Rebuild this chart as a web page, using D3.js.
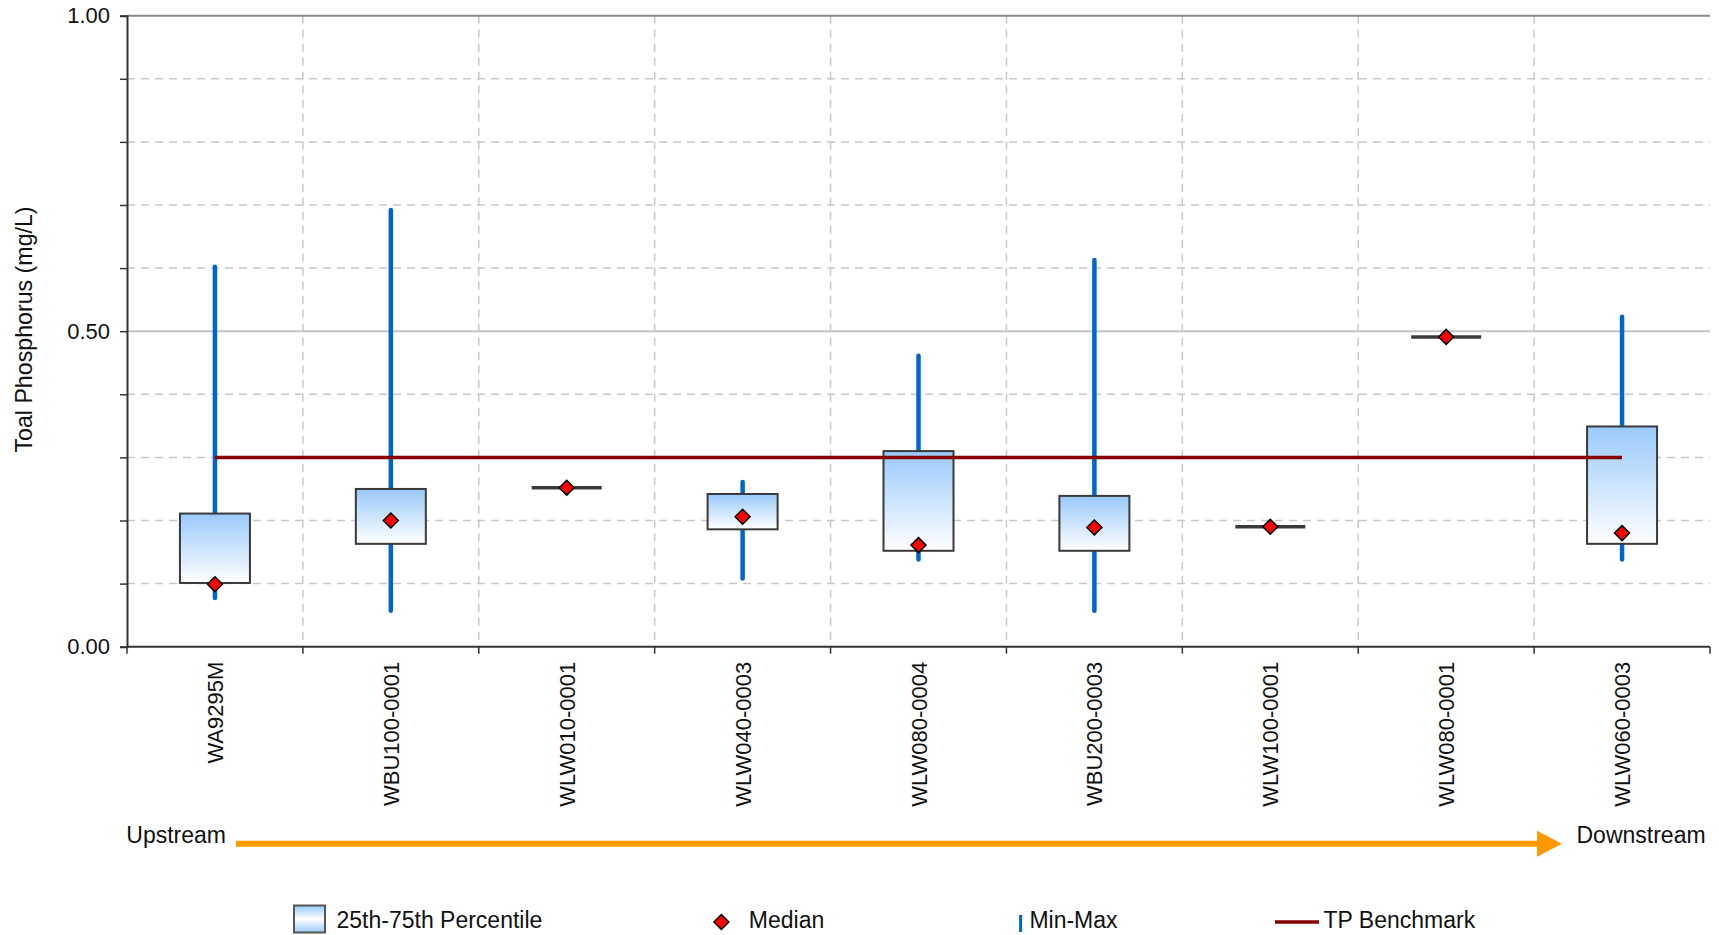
<!DOCTYPE html>
<html>
<head>
<meta charset="utf-8">
<script src="https://cdn.jsdelivr.net/npm/d3@7"></script>
<style>
  html, body { margin: 0; padding: 0; background: #fff; }
  svg { display: block; font-family: "Liberation Sans", Arial, sans-serif; }
</style>
</head>
<body>
<svg id="chart" width="1719" height="935"></svg>
<script>
// ---------------- data ----------------
const sites = ["WA9295M", "WBU100-0001", "WLW010-0001", "WLW040-0003", "WLW080-0004",
               "WBU200-0003", "WLW100-0001", "WLW080-0001", "WLW060-0003"];
const minVals    = [0.077, 0.057, 0.252, 0.108, 0.138, 0.057, 0.190, 0.491, 0.138];
const q1Vals     = [0.101, 0.163, 0.252, 0.186, 0.152, 0.152, 0.190, 0.491, 0.163];
const medianVals = [0.099, 0.200, 0.252, 0.206, 0.161, 0.189, 0.190, 0.491, 0.180];
const q3Vals     = [0.211, 0.250, 0.252, 0.242, 0.310, 0.239, 0.190, 0.491, 0.349];
const maxVals    = [0.602, 0.692, 0.252, 0.261, 0.461, 0.613, 0.190, 0.491, 0.523];
const benchmark = 0.3;
const yMajorTicks = [0, 0.5, 1.0];
const yMinorTicks = [0.1, 0.2, 0.3, 0.4, 0.6, 0.7, 0.8, 0.9];
const yTickLabels = ["0.00", "0.50", "1.00"];
const yAxisTitle = "Toal Phosphorus (mg/L)";
const legendLabels = ["25th-75th Percentile", "Median", "Min-Max", "TP Benchmark"];
const flowLabels = ["Upstream", "Downstream"];

const rows = sites.map((s, i) => ({
  site: s, min: minVals[i], q1: q1Vals[i], med: medianVals[i], q3: q3Vals[i], max: maxVals[i]
}));

// ---------------- layout ----------------
const svg = d3.select("#chart");
const L = 127, R = 1710, T = 15.7, B = 646.7;
const x = d3.scaleBand().domain(sites).range([L, R]).paddingInner(0).paddingOuter(0);
const y = d3.scaleLinear().domain([0, 1]).range([B, T]);
const step = x.step();
const boxW = step * 0.398;
const cx = s => x(s) + x.bandwidth() / 2;

const defs = svg.append("defs");
const g1 = defs.append("linearGradient").attr("id", "boxGrad")
  .attr("x1", 0).attr("y1", 0).attr("x2", 0).attr("y2", 1);
g1.append("stop").attr("offset", "0%").attr("stop-color", "#99c9fb");
g1.append("stop").attr("offset", "100%").attr("stop-color", "#ffffff");
const g2 = defs.append("linearGradient").attr("id", "legGrad")
  .attr("x1", 0).attr("y1", 0).attr("x2", 0).attr("y2", 1);
g2.append("stop").attr("offset", "0%").attr("stop-color", "#99c9fb");
g2.append("stop").attr("offset", "50%").attr("stop-color", "#ffffff");
g2.append("stop").attr("offset", "100%").attr("stop-color", "#99c9fb");

// ---------------- grid ----------------
const grid = svg.append("g");
grid.selectAll("line.hminor").data(yMinorTicks).join("line")
  .attr("x1", L).attr("x2", R).attr("y1", d => y(d)).attr("y2", d => y(d))
  .attr("stroke", "#c8c8c8").attr("stroke-width", 1.5).attr("stroke-dasharray", "8,6");
grid.append("line").attr("x1", L).attr("x2", R).attr("y1", y(0.5)).attr("y2", y(0.5))
  .attr("stroke", "#c4c4c4").attr("stroke-width", 2);
const bounds = d3.range(1, sites.length).map(i => L + i * step);
grid.selectAll("line.v").data(bounds).join("line")
  .attr("x1", d => d).attr("x2", d => d).attr("y1", T).attr("y2", B)
  .attr("stroke", "#c8c8c8").attr("stroke-width", 1.5).attr("stroke-dasharray", "8,6");
grid.append("line").attr("x1", L).attr("x2", R).attr("y1", y(1)).attr("y2", y(1))
  .attr("stroke", "#8a8a8a").attr("stroke-width", 2);

// ---------------- axes ----------------
const yAxis = d3.axisLeft(y).tickValues(yMajorTicks.concat(yMinorTicks))
  .tickSize(7).tickPadding(10)
  .tickFormat(d => { const k = yMajorTicks.indexOf(d); return k >= 0 ? yTickLabels[k] : ""; });
const ya = svg.append("g").attr("transform", `translate(${L},0)`).call(yAxis);
ya.select(".domain").attr("stroke", "#333").attr("stroke-width", 2);
ya.selectAll(".tick line").attr("stroke", "#333").attr("stroke-width", 1.5);
ya.selectAll(".tick text").attr("font-size", 22).attr("fill", "#111")
  .attr("font-family", "Liberation Sans, Arial, sans-serif");

// x axis line + boundary ticks
svg.append("line").attr("x1", L).attr("x2", R).attr("y1", B).attr("y2", B)
  .attr("stroke", "#333").attr("stroke-width", 2);
svg.selectAll("line.xt").data(d3.range(0, sites.length + 1).map(i => L + i * step)).join("line")
  .attr("x1", d => d).attr("x2", d => d).attr("y1", B).attr("y2", B + 7)
  .attr("stroke", "#333").attr("stroke-width", 1.5);
svg.selectAll("text.xl").data(sites).join("text")
  .attr("transform", d => `translate(${cx(d) + 8},${B + 15}) rotate(-90)`)
  .attr("text-anchor", "end").attr("font-size", 22).attr("fill", "#111").text(d => d);

svg.append("text")
  .attr("transform", `translate(31.5,${(206 + 453) / 2}) rotate(-90)`)
  .attr("text-anchor", "middle").attr("font-size", 23.2).attr("fill", "#111").text(yAxisTitle);

// ---------------- marks ----------------
const marks = svg.append("g");
// whiskers
marks.selectAll("line.wh").data(rows.filter(d => d.max > d.min)).join("line")
  .attr("x1", d => cx(d.site)).attr("x2", d => cx(d.site))
  .attr("y1", d => y(d.min)).attr("y2", d => y(d.max))
  .attr("stroke", "#0066cc").attr("stroke-width", 4.5).attr("stroke-linecap", "round");
// boxes
marks.selectAll("rect.bx").data(rows.filter(d => d.q3 > d.q1)).join("rect")
  .attr("x", d => cx(d.site) - boxW / 2).attr("width", boxW)
  .attr("y", d => y(d.q3)).attr("height", d => y(d.q1) - y(d.q3))
  .attr("fill", "url(#boxGrad)").attr("stroke", "#3a3a3a").attr("stroke-width", 2);
// zero-height boxes
marks.selectAll("line.zb").data(rows.filter(d => d.q3 <= d.q1)).join("line")
  .attr("x1", d => cx(d.site) - boxW / 2).attr("x2", d => cx(d.site) + boxW / 2)
  .attr("y1", d => y(d.q1)).attr("y2", d => y(d.q1))
  .attr("stroke", "#3a3a3a").attr("stroke-width", 3.5);
// benchmark
marks.append("line")
  .attr("x1", cx(sites[0])).attr("x2", cx(sites[sites.length - 1]))
  .attr("y1", y(benchmark)).attr("y2", y(benchmark))
  .attr("stroke", "#850000").attr("stroke-width", 3.5);
// medians
const diamond = d3.symbol(d3.symbolSquare, 112)();
marks.selectAll("path.md").data(rows).join("path")
  .attr("d", diamond)
  .attr("transform", d => `translate(${cx(d.site)},${y(d.med)}) rotate(45)`)
  .attr("fill", "#ff0000").attr("stroke", "#000").attr("stroke-width", 1.5);

// ---------------- flow arrow ----------------
const ay = 843.7;
svg.append("text").attr("x", 226).attr("y", 843).attr("text-anchor", "end")
  .attr("font-size", 23).attr("fill", "#111").text(flowLabels[0]);
svg.append("text").attr("x", 1576.5).attr("y", 843).attr("text-anchor", "start")
  .attr("font-size", 23).attr("fill", "#111").text(flowLabels[1]);
svg.append("line").attr("x1", 236).attr("x2", 1540).attr("y1", ay).attr("y2", ay)
  .attr("stroke", "#ff9900").attr("stroke-width", 6);
svg.append("path")
  .attr("d", `M1537,${ay - 13} L1562,${ay} L1537,${ay + 13} Z`)
  .attr("fill", "#ff9900");

// ---------------- legend ----------------
const ly = 919;
const leg = svg.append("g").attr("font-size", 23).attr("fill", "#111");
leg.append("rect").attr("x", 294).attr("y", 905.5).attr("width", 31).attr("height", 27)
  .attr("fill", "url(#legGrad)").attr("stroke", "#555").attr("stroke-width", 2);
leg.append("text").attr("x", 336.5).attr("y", 927.5).text(legendLabels[0]);
leg.append("path").attr("d", diamond)
  .attr("transform", `translate(721.4,${ly + 3}) rotate(45)`)
  .attr("fill", "#ff0000").attr("stroke", "#000").attr("stroke-width", 1.5);
leg.append("text").attr("x", 748.8).attr("y", 927.5).text(legendLabels[1]);
leg.append("line").attr("x1", 1020.6).attr("x2", 1020.6).attr("y1", 915).attr("y2", 932)
  .attr("stroke", "#0066cc").attr("stroke-width", 3);
leg.append("text").attr("x", 1029.4).attr("y", 927.5).text(legendLabels[2]);
leg.append("line").attr("x1", 1275).attr("x2", 1319).attr("y1", 922).attr("y2", 922)
  .attr("stroke", "#850000").attr("stroke-width", 3.5);
leg.append("text").attr("x", 1323.5).attr("y", 927.5).text(legendLabels[3]);
</script>
</body>
</html>
